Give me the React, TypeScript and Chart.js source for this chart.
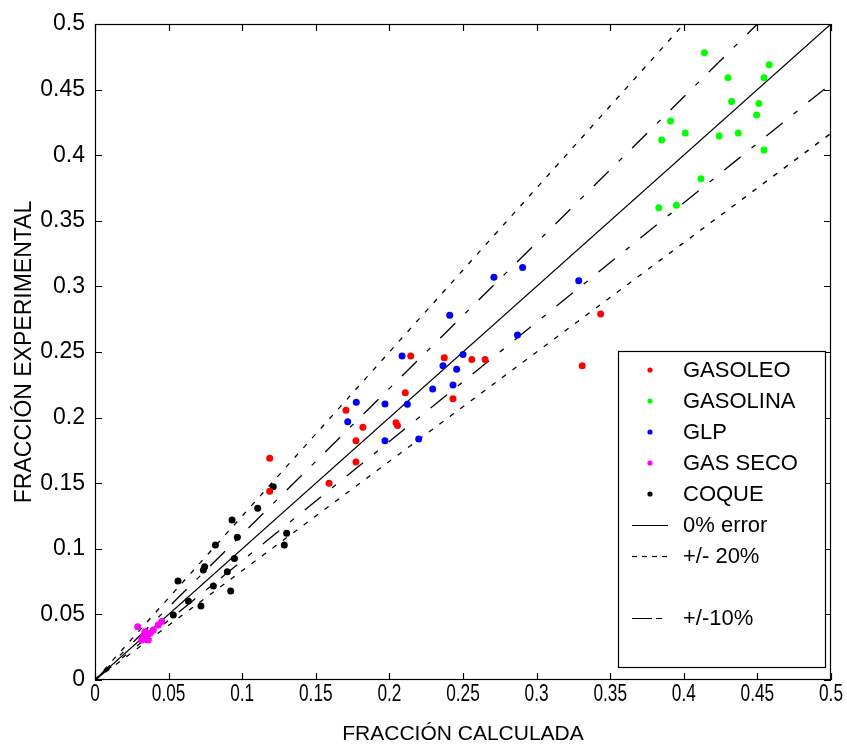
import React, { useEffect, useRef } from "react";
import { Chart, registerables } from "chart.js";
Chart.register(...registerables);

// ---- data ----
const gasoleoX = [0.3435, 0.331, 0.2145, 0.2373, 0.256, 0.265, 0.2108, 0.2432, 0.1705, 0.182, 0.2045, 0.2055, 0.1773, 0.1773, 0.159, 0.1187, 0.1187];
const gasoleoY = [0.279, 0.2396, 0.247, 0.2457, 0.2442, 0.2442, 0.219, 0.2144, 0.2056, 0.1926, 0.196, 0.194, 0.1824, 0.1662, 0.15, 0.169, 0.1439];

const gasolinaX = [0.414, 0.458, 0.43, 0.4545, 0.4325, 0.451, 0.4495, 0.391, 0.401, 0.424, 0.437, 0.385, 0.4545, 0.4117, 0.383, 0.395];
const gasolinaY = [0.478, 0.469, 0.459, 0.459, 0.441, 0.4395, 0.4307, 0.426, 0.417, 0.4146, 0.417, 0.4116, 0.404, 0.382, 0.36, 0.3618];

const glpX = [0.241, 0.271, 0.2905, 0.3286, 0.287, 0.2086, 0.25, 0.2364, 0.2457, 0.2294, 0.2432, 0.1775, 0.197, 0.2122, 0.1717, 0.197, 0.2199];
const glpY = [0.278, 0.307, 0.3145, 0.3044, 0.263, 0.247, 0.248, 0.2396, 0.2368, 0.2218, 0.2249, 0.2117, 0.2104, 0.2101, 0.1969, 0.1824, 0.1837];

const gasSecoX = [0.029, 0.0328, 0.0362, 0.0317, 0.0396, 0.043, 0.0453, 0.0374, 0.034];
const gasSecoY = [0.0406, 0.033, 0.0305, 0.0305, 0.0381, 0.0419, 0.0445, 0.0356, 0.0368];

const coqueX = [0.1211, 0.1105, 0.0931, 0.0967, 0.0818, 0.1302, 0.1286, 0.0947, 0.0745, 0.0736, 0.0899, 0.0804, 0.0922, 0.0564, 0.0634, 0.072, 0.0532, 0.035];
const coqueY = [0.1473, 0.1309, 0.122, 0.1088, 0.1029, 0.1118, 0.1029, 0.0926, 0.0864, 0.0838, 0.0826, 0.0716, 0.0678, 0.0755, 0.0602, 0.0564, 0.0495, 0.031];

// reference lines (end points)
const line0X = [0, 0.5];
const line0Y = [0, 0.5];
const line20UpX = [0, 0.4];
const line20UpY = [0, 0.5];
const line20DnX = [0, 0.5];
const line20DnY = [0, 0.4167];
const line10UpX = [0, 0.45];
const line10UpY = [0, 0.5];
const line10DnX = [0, 0.5];
const line10DnY = [0, 0.4545];

const xMin = 0, xMax = 0.5, yMin = 0, yMax = 0.5, tickStep = 0.05;

const FONT = "'Liberation Sans', Arial, Helvetica, sans-serif";

const toPts = (xs: number[], ys: number[]) => xs.map((x, i) => ({ x, y: ys[i] }));
const fmt = (v: number) => String(Math.round(v * 100) / 100);

const SHORT_DASH = [5, 8];
const LONG_DASH = [21, 14, 5, 14];

const pointSet = (label: string, xs: number[], ys: number[], color: string) => ({
  label,
  data: toPts(xs, ys),
  backgroundColor: color,
  borderColor: color,
  borderWidth: 0,
  pointRadius: 3.5,
  pointHoverRadius: 3.5,
  showLine: false,
});

const lineSet = (label: string, xs: number[], ys: number[], dash: number[]) => ({
  label,
  data: toPts(xs, ys),
  borderColor: "#000",
  backgroundColor: "#000",
  borderWidth: 1.3,
  borderDash: dash,
  pointRadius: 0,
  showLine: true,
  fill: false,
});

const legendRows = [
  { label: "GASOLEO", kind: "point", color: "#ff0000", dash: [] as number[] },
  { label: "GASOLINA", kind: "point", color: "#00ff00", dash: [] as number[] },
  { label: "GLP", kind: "point", color: "#0000ff", dash: [] as number[] },
  { label: "GAS SECO", kind: "point", color: "#ff00ff", dash: [] as number[] },
  { label: "COQUE", kind: "point", color: "#000000", dash: [] as number[] },
  { label: "0% error", kind: "line", color: "#000", dash: [] as number[] },
  { label: "+/- 20%", kind: "line", color: "#000", dash: [5, 5] },
  { label: "", kind: "blank", color: "#000", dash: [] as number[] },
  { label: "+/-10%", kind: "line", color: "#000", dash: [20, 4, 6, 100] },
];

const framePlugin = {
  id: "frameTicks",
  afterDatasetsDraw(chart: any) {
    const { ctx, chartArea: a, scales } = chart;
    ctx.save();
    ctx.strokeStyle = "#000";
    ctx.lineWidth = 1.2;
    ctx.setLineDash([]);
    ctx.strokeRect(a.left + 0.5, a.top + 0.5, a.right - a.left - 1, a.bottom - a.top - 1);
    const tl = 7;
    ctx.beginPath();
    scales.x.ticks.forEach((t: any) => {
      const px = Math.round(scales.x.getPixelForValue(t.value)) + 0.5;
      ctx.moveTo(px, a.bottom);
      ctx.lineTo(px, a.bottom - tl);
      ctx.moveTo(px, a.top);
      ctx.lineTo(px, a.top + tl);
    });
    scales.y.ticks.forEach((t: any) => {
      const py = Math.round(scales.y.getPixelForValue(t.value)) + 0.5;
      ctx.moveTo(a.left, py);
      ctx.lineTo(a.left + tl, py);
      ctx.moveTo(a.right, py);
      ctx.lineTo(a.right - tl, py);
    });
    ctx.stroke();

    // x tick labels (narrow rendering)
    ctx.fillStyle = "#000";
    ctx.font = `24px ${FONT}`;
    ctx.textAlign = "center";
    ctx.textBaseline = "middle";
    scales.x.ticks.forEach((t: any) => {
      const px = scales.x.getPixelForValue(t.value);
      ctx.save();
      ctx.translate(px, a.bottom + 14);
      ctx.scale(0.72, 1);
      ctx.fillText(fmt(t.value), 0, 0);
      ctx.restore();
    });
    ctx.restore();
  },
};

const legendPlugin = {
  id: "customLegend",
  afterDraw(chart: any) {
    const { ctx, chartArea: a } = chart;
    const boxL = a.left + 523, boxT = a.top + 327, boxW = 207, boxH = 316;
    ctx.save();
    ctx.fillStyle = "#fff";
    ctx.fillRect(boxL, boxT, boxW, boxH);
    ctx.strokeStyle = "#000";
    ctx.lineWidth = 1.2;
    ctx.setLineDash([]);
    ctx.strokeRect(boxL + 0.5, boxT + 0.5, boxW, boxH);
    const rowH = 31;
    const firstY = boxT + 19;
    ctx.font = `22px ${FONT}`;
    ctx.textAlign = "left";
    ctx.textBaseline = "middle";
    legendRows.forEach((r, i) => {
      const y = firstY + i * rowH;
      if (r.kind === "blank") return;
      if (r.kind === "point") {
        ctx.fillStyle = r.color;
        ctx.beginPath();
        ctx.arc(boxL + 32, y, 2.6, 0, Math.PI * 2);
        ctx.fill();
      } else {
        ctx.strokeStyle = "#000";
        ctx.lineWidth = 1.2;
        ctx.setLineDash(r.dash);
        ctx.beginPath();
        ctx.moveTo(boxL + 14, Math.round(y) + 0.5);
        ctx.lineTo(boxL + 50, Math.round(y) + 0.5);
        ctx.stroke();
        ctx.setLineDash([]);
      }
      ctx.fillStyle = "#000";
      ctx.fillText(r.label, boxL + 65, y + 1);
    });
    ctx.restore();
  },
};

export default function App() {
  const ref = useRef<HTMLCanvasElement | null>(null);

  useEffect(() => {
    if (!ref.current) return;
    const datasets: any[] = [
      pointSet("GASOLEO", gasoleoX, gasoleoY, "#ff0000"),
      pointSet("GASOLINA", gasolinaX, gasolinaY, "#00ff00"),
      pointSet("GLP", glpX, glpY, "#0000ff"),
      pointSet("GAS SECO", gasSecoX, gasSecoY, "#ff00ff"),
      pointSet("COQUE", coqueX, coqueY, "#000000"),
      lineSet("0% error", line0X, line0Y, []),
      lineSet("+/- 20%", line20UpX, line20UpY, SHORT_DASH),
      lineSet("+/- 20% (inf)", line20DnX, line20DnY, SHORT_DASH),
      lineSet("+/-10%", line10UpX, line10UpY, LONG_DASH),
      lineSet("+/-10% (inf)", line10DnX, line10DnY, LONG_DASH),
    ];
    const chart = new Chart(ref.current, {
      type: "scatter",
      data: { datasets },
      options: {
        animation: false,
        responsive: false,
        devicePixelRatio: 1,
        layout: { padding: { top: 24, right: 16, left: 0, bottom: 0 } },
        plugins: { legend: { display: false }, tooltip: { enabled: false } },
        scales: {
          x: {
            type: "linear",
            min: xMin,
            max: xMax,
            ticks: { stepSize: tickStep, display: false },
            grid: { display: false, drawTicks: false },
            border: { display: false },
            title: {
              display: true,
              text: "FRACCIÓN CALCULADA",
              color: "#000",
              font: { family: FONT, size: 21 },
              padding: { top: 0, bottom: 1 },
            },
            afterFit: (s: any) => {
              s.height = 68;
            },
          },
          y: {
            type: "linear",
            min: yMin,
            max: yMax,
            ticks: {
              stepSize: tickStep,
              color: "#000",
              padding: 10,
              font: { family: FONT, size: 23 },
              callback: (v: any) => fmt(Number(v)),
            },
            grid: { display: false, drawTicks: false },
            border: { display: false },
            title: {
              display: true,
              text: "FRACCIÓN EXPERIMENTAL",
              color: "#000",
              font: { family: FONT, size: 23 },
              padding: { top: 11, bottom: 0 },
            },
            afterFit: (s: any) => {
              s.width = 95;
            },
          },
        },
      } as any,
      plugins: [framePlugin, legendPlugin],
    });
    return () => chart.destroy();
  }, []);

  return (
    <div style={{ position: "absolute", left: 0, top: 0, width: 847, height: 748, background: "#fff" }}>
      <canvas ref={ref} width={847} height={748} style={{ display: "block" }} />
    </div>
  );
}
